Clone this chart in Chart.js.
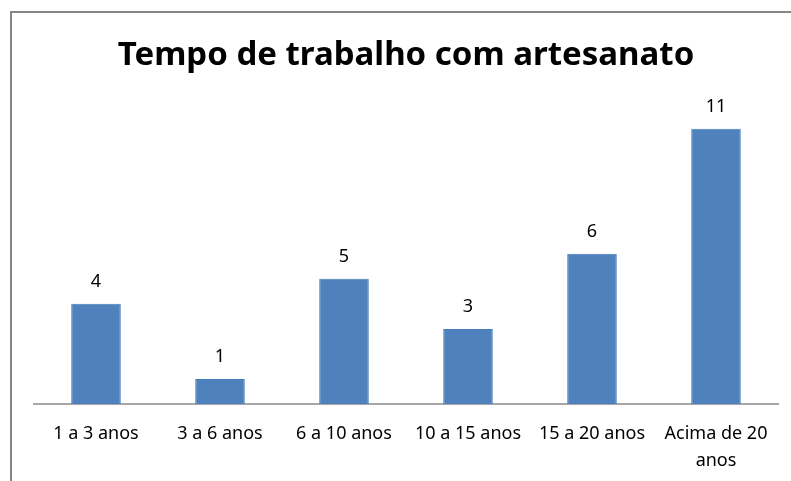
<!DOCTYPE html>
<html>
<head>
<meta charset="utf-8">
<script src="https://cdn.jsdelivr.net/npm/chart.js@4/dist/chart.umd.min.js"></script>
<style>
  html, body { margin: 0; padding: 0; background: #fff; }
  #wrap { position: relative; width: 791px; height: 481px; overflow: hidden; }
  #frame { position: absolute; left: 10px; top: 11px; width: 800px; height: 500px;
           border-left: 2px solid #868686; border-top: 2px solid #868686; }
  #chart { position: absolute; left: 0; top: 0; }
</style>
</head>
<body>
<div id="wrap">
  <div id="frame"></div>
  <canvas id="chart" width="791" height="481"></canvas>
</div>
<script>
const categories = ['1 a 3 anos', '3 a 6 anos', '6 a 10 anos', '10 a 15 anos', '15 a 20 anos', ['Acima de 20', 'anos']];
const values = [4, 1, 5, 3, 6, 11];
const chartTitle = 'Tempo de trabalho com artesanato';

// desenha o valor acima de cada barra
const valueLabels = {
    id: 'valueLabels',
    afterDatasetsDraw(chart) {
        const ctx = chart.ctx;
        ctx.save();
        ctx.font = '18px "Noto Sans"';
        ctx.fillStyle = '#000';
        ctx.textAlign = 'center';
        ctx.textBaseline = 'middle';
        chart.getDatasetMeta(0).data.forEach((bar, i) => {
            ctx.fillText(String(values[i]), bar.x, bar.y - 22);
        });
        ctx.restore();
    }
};

new Chart(document.getElementById('chart').getContext('2d'), {
    type: 'bar',
    data: {
        labels: categories,
        datasets: [{
            data: values,
            backgroundColor: '#4F81BD',
            borderColor: '#4A7EBB',
            borderWidth: 1,
            barPercentage: 0.4,
            categoryPercentage: 1
        }]
    },
    options: {
        responsive: false,
        animation: false,
        layout: { padding: { left: 34, right: 13, top: 0, bottom: 6 } },
        plugins: {
            legend: { display: false },
            tooltip: { enabled: false },
            title: {
                display: true,
                text: chartTitle,
                color: '#000',
                font: { family: '"Noto Sans"', size: 33, weight: 'bold', lineHeight: 1.2 },
                padding: { top: 36, bottom: 28 }
            }
        },
        scales: {
            x: {
                grid: { display: false },
                border: { color: '#A6A6A6', width: 2 },
                ticks: {
                    color: '#000',
                    font: { family: '"Noto Sans"', size: 18, lineHeight: 1.5 },
                    padding: 8,
                    maxRotation: 0,
                    autoSkip: false
                },
                afterFit(scale) {
                    scale.height -= 7;
                }
            },
            y: {
                display: false,
                min: 0,
                max: 12
            }
        }
    },
    plugins: [valueLabels]
});
</script>
</body>
</html>
